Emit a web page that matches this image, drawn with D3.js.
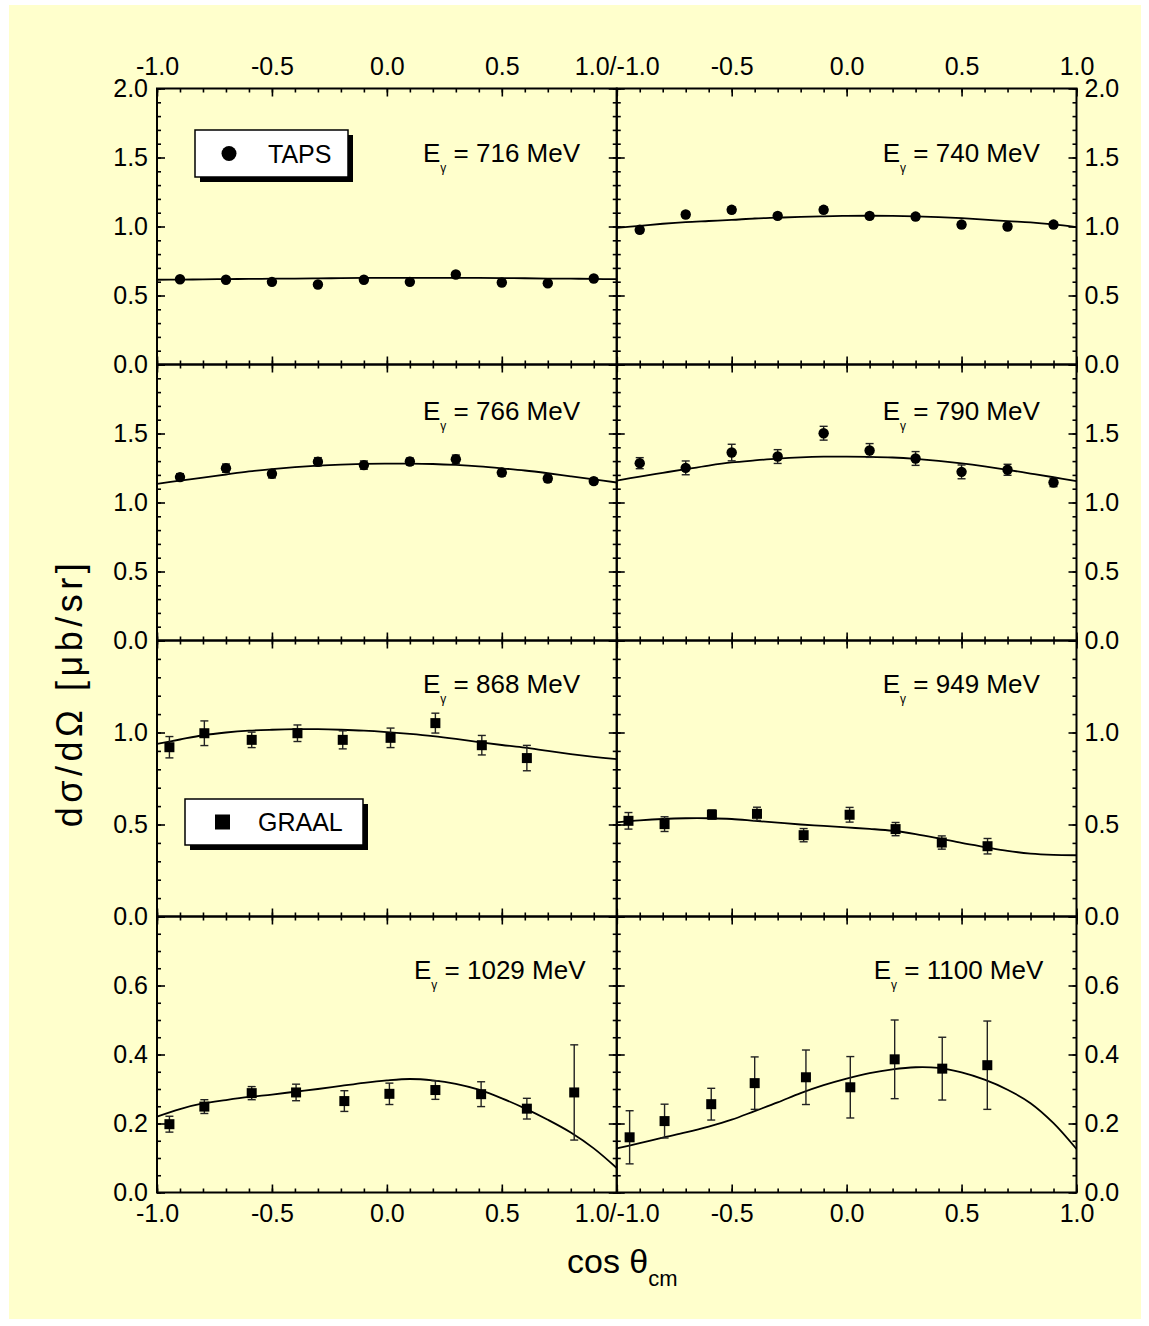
<!DOCTYPE html>
<html>
<head>
<meta charset="utf-8">
<script src="https://cdn.jsdelivr.net/npm/d3@7"></script>
<style>
    body { margin: 0; background: #fff; }
    svg text { font-family: "Liberation Sans", Arial, sans-serif; fill: #000; }
</style>
</head>
<body>
<div id="chart"></div>
<script>
// ---- data ----
const energies = [716, 740, 766, 790, 868, 949, 1029, 1100];

// TAPS angles (same for the four low energies)
const cosTaps = [-0.9, -0.7, -0.5, -0.3, -0.1, 0.1, 0.3, 0.5, 0.7, 0.9];
const taps716 = [0.618, 0.614, 0.599, 0.580, 0.614, 0.599, 0.652, 0.594, 0.589, 0.623];
const taps716Err = [0.015, 0.015, 0.015, 0.015, 0.015, 0.015, 0.015, 0.015, 0.015, 0.015];
const taps740 = [0.976, 1.087, 1.121, 1.077, 1.121, 1.077, 1.072, 1.014, 1.000, 1.014];
const taps740Err = [0.02, 0.02, 0.02, 0.02, 0.02, 0.02, 0.02, 0.02, 0.02, 0.02];
const taps766 = [1.184, 1.249, 1.208, 1.295, 1.271, 1.297, 1.314, 1.217, 1.174, 1.155];
const taps766Err = [0.025, 0.03, 0.03, 0.03, 0.03, 0.025, 0.03, 0.025, 0.025, 0.02];
const taps790 = [1.285, 1.251, 1.362, 1.333, 1.502, 1.377, 1.319, 1.222, 1.237, 1.145];
const taps790Err = [0.04, 0.05, 0.06, 0.05, 0.05, 0.05, 0.05, 0.05, 0.04, 0.03];

// GRAAL
const cos868 = [-0.946, -0.794, -0.588, -0.389, -0.192, 0.016, 0.211, 0.413, 0.609];
const graal868 = [0.920, 0.996, 0.960, 0.996, 0.960, 0.971, 1.051, 0.931, 0.861];
const graal868Err = [0.058, 0.067, 0.042, 0.045, 0.049, 0.053, 0.054, 0.053, 0.069];
const cos949 = [-0.949, -0.792, -0.586, -0.390, -0.187, 0.013, 0.213, 0.414, 0.613];
const graal949 = [0.520, 0.502, 0.554, 0.558, 0.442, 0.553, 0.475, 0.402, 0.382];
const graal949Err = [0.045, 0.04, 0.025, 0.036, 0.036, 0.04, 0.036, 0.036, 0.042];
const cos1029 = [-0.946, -0.794, -0.588, -0.395, -0.185, 0.011, 0.211, 0.410, 0.609, 0.815];
const graal1029 = [0.198, 0.249, 0.288, 0.290, 0.265, 0.286, 0.297, 0.285, 0.243, 0.290];
const graal1029Err = [0.023, 0.02, 0.019, 0.024, 0.03, 0.031, 0.027, 0.036, 0.03, 0.138];
const cos1100 = [-0.944, -0.792, -0.589, -0.400, -0.177, 0.016, 0.209, 0.416, 0.612];
const graal1100 = [0.160, 0.207, 0.256, 0.317, 0.334, 0.305, 0.386, 0.359, 0.369];
const graal1100Err = [0.077, 0.049, 0.046, 0.076, 0.079, 0.089, 0.114, 0.091, 0.128];

// model curves, read at cos = -1.0, -0.9, ..., 1.0
const curveCos = [-1.0, -0.9, -0.8, -0.7, -0.6, -0.5, -0.4, -0.3, -0.2, -0.1, 0.0,
                  0.1, 0.2, 0.3, 0.4, 0.5, 0.6, 0.7, 0.8, 0.9, 1.0];
const curve716 = [0.614, 0.615, 0.617, 0.619, 0.620, 0.622, 0.623, 0.624, 0.626, 0.627, 0.628,
                  0.628, 0.628, 0.628, 0.627, 0.626, 0.625, 0.623, 0.622, 0.620, 0.618];
const curve740 = [0.990, 1.005, 1.020, 1.032, 1.040, 1.048, 1.058, 1.064, 1.070, 1.074, 1.077,
                  1.078, 1.077, 1.073, 1.068, 1.060, 1.050, 1.039, 1.030, 1.015, 0.995];
const curve766 = [1.135, 1.158, 1.180, 1.203, 1.225, 1.242, 1.256, 1.267, 1.275, 1.280, 1.282,
                  1.282, 1.279, 1.272, 1.262, 1.248, 1.232, 1.212, 1.190, 1.168, 1.145];
const curve790 = [1.159, 1.188, 1.215, 1.242, 1.268, 1.290, 1.305, 1.318, 1.327, 1.332, 1.333,
                  1.331, 1.326, 1.316, 1.302, 1.284, 1.262, 1.237, 1.210, 1.183, 1.155];
const curve868 = [0.938, 0.962, 0.985, 1.000, 1.010, 1.015, 1.018, 1.018, 1.015, 1.010, 1.002,
                  0.992, 0.980, 0.965, 0.948, 0.932, 0.918, 0.900, 0.883, 0.868, 0.855];
const curve949 = [0.511, 0.522, 0.530, 0.534, 0.534, 0.530, 0.520, 0.510, 0.500, 0.492, 0.484,
                  0.476, 0.466, 0.448, 0.425, 0.400, 0.378, 0.357, 0.342, 0.335, 0.333];
const curve1029 = [0.220, 0.242, 0.258, 0.268, 0.277, 0.284, 0.292, 0.300, 0.309, 0.318, 0.325,
                   0.329, 0.325, 0.315, 0.298, 0.273, 0.244, 0.211, 0.174, 0.128, 0.071];
const curve1100 = [0.128, 0.143, 0.159, 0.174, 0.191, 0.211, 0.236, 0.261, 0.288, 0.311, 0.330,
                   0.346, 0.357, 0.363, 0.361, 0.348, 0.327, 0.298, 0.259, 0.201, 0.126];

// axis ticks
const xTickLabels = [-1.0, -0.5, 0.0, 0.5, 1.0];
const rowMax = [2.0, 2.0, 1.5, 0.8];
const rowMajor = [0.5, 0.5, 0.5, 0.2];
const rowMinor = [0.1, 0.1, 0.1, 0.05];
const rowTickLabels = [
    [0.0, 0.5, 1.0, 1.5, 2.0],
    [0.0, 0.5, 1.0, 1.5],
    [0.0, 0.5, 1.0],
    [0.0, 0.2, 0.4, 0.6]
];

// panels: row, column, data
const panels = [
    { r: 0, c: 0, e: energies[0], cos: cosTaps, v: taps716, err: taps716Err, curve: curve716, mark: "circle" },
    { r: 0, c: 1, e: energies[1], cos: cosTaps, v: taps740, err: taps740Err, curve: curve740, mark: "circle" },
    { r: 1, c: 0, e: energies[2], cos: cosTaps, v: taps766, err: taps766Err, curve: curve766, mark: "circle" },
    { r: 1, c: 1, e: energies[3], cos: cosTaps, v: taps790, err: taps790Err, curve: curve790, mark: "circle" },
    { r: 2, c: 0, e: energies[4], cos: cos868, v: graal868, err: graal868Err, curve: curve868, mark: "square" },
    { r: 2, c: 1, e: energies[5], cos: cos949, v: graal949, err: graal949Err, curve: curve949, mark: "square" },
    { r: 3, c: 0, e: energies[6], cos: cos1029, v: graal1029, err: graal1029Err, curve: curve1029, mark: "square" },
    { r: 3, c: 1, e: energies[7], cos: cos1100, v: graal1100, err: graal1100Err, curve: curve1100, mark: "square" }
];

// ---- layout ----
const W = 1149, H = 1326;
const plotLeft = 157, plotTop = 88.5;
const colW = 459.75, rowH = 276;
// energy label offsets inside each row (dx from panel left, baseline from row top)
const labelDx = [266, 266, 266, 257];
const labelDy = [73, 55.5, 52.5, 62];

const svg = d3.select("#chart")
    .append("svg")
    .attr("width", W)
    .attr("height", H);

svg.append("rect")
    .attr("x", 9).attr("y", 5)
    .attr("width", 1132).attr("height", 1314)
    .attr("fill", "#ffffcc");

const x = [0, 1].map(c => d3.scaleLinear().domain([-1, 1]).range([plotLeft + c * colW, plotLeft + (c + 1) * colW]));
const y = rowMax.map((m, r) => d3.scaleLinear().domain([0, m]).range([plotTop + (r + 1) * rowH, plotTop + r * rowH]));

// plain hyphen minus, like the original
const fmt = d => d.toFixed(1);
const xMinor = d3.range(-10, 11).map(i => i / 10);
const xMajor = xTickLabels;

function tickAxis(g, axis) {
    g.call(axis);
    g.select(".domain").remove();
    g.selectAll(".tick line").attr("stroke", "#000").attr("stroke-width", 1.6);
}

function styleLabels(sel) {
    sel.style("font-size", "25px")
        .style("font-family", "'Liberation Sans', Arial, sans-serif")
        .attr("fill", "#000");
}

const line = d3.line().curve(d3.curveCatmullRom.alpha(0.5));

panels.forEach(p => {
    const xs = x[p.c], ys = y[p.r];
    const [x0, x1] = xs.range();
    const [y1, y0] = ys.range();
    const g = svg.append("g");

    const n = Math.round(rowMax[p.r] / rowMinor[p.r]);
    const yMinor = d3.range(0, n + 1).map(i => +(i * rowMinor[p.r]).toFixed(3));
    const yMajor = yMinor.filter(v => Math.abs(v / rowMajor[p.r] - Math.round(v / rowMajor[p.r])) < 1e-6);

    // inward ticks on all four sides
    [[yMinor, 4], [yMajor, 8]].forEach(([vals, len]) => {
        g.append("g").attr("transform", `translate(${x0},0)`)
            .call(gg => tickAxis(gg, d3.axisRight(ys).tickValues(vals).tickSize(len).tickFormat("")));
        g.append("g").attr("transform", `translate(${x1},0)`)
            .call(gg => tickAxis(gg, d3.axisLeft(ys).tickValues(vals).tickSize(len).tickFormat("")));
    });
    [[xMinor, 4], [xMajor, 8]].forEach(([vals, len]) => {
        g.append("g").attr("transform", `translate(0,${y0})`)
            .call(gg => tickAxis(gg, d3.axisBottom(xs).tickValues(vals).tickSize(len).tickFormat("")));
        g.append("g").attr("transform", `translate(0,${y1})`)
            .call(gg => tickAxis(gg, d3.axisTop(xs).tickValues(vals).tickSize(len).tickFormat("")));
    });

    // frame
    g.append("rect")
        .attr("x", x0).attr("y", y0)
        .attr("width", x1 - x0).attr("height", y1 - y0)
        .attr("fill", "none").attr("stroke", "#000").attr("stroke-width", 2);

    // y labels
    const yLab = p.c === 0
        ? d3.axisLeft(ys).tickPadding(9)
        : d3.axisRight(ys).tickPadding(8);
    g.append("g")
        .attr("transform", `translate(${p.c === 0 ? x0 : x1},0)`)
        .call(yLab.tickValues(rowTickLabels[p.r]).tickSize(0).tickFormat(fmt))
        .call(gg => gg.select(".domain").remove())
        .selectAll("text")
        .call(styleLabels);

    // x labels on top row and bottom row
    const xVals = p.c === 0 ? xTickLabels : xTickLabels.filter(v => v > -1);
    const xFmt = d => (p.c === 0 && d === 1) ? "1.0/-1.0" : fmt(d);
    if (p.r === 0) {
        g.append("g").attr("transform", `translate(0,${y0})`)
            .call(d3.axisTop(xs).tickValues(xVals).tickSize(0).tickPadding(14).tickFormat(xFmt))
            .call(gg => gg.select(".domain").remove())
            .selectAll("text")
            .call(styleLabels);
    }
    if (p.r === 3) {
        g.append("g").attr("transform", `translate(0,${y1})`)
            .call(d3.axisBottom(xs).tickValues(xVals).tickSize(0).tickPadding(12).tickFormat(xFmt))
            .call(gg => gg.select(".domain").remove())
            .selectAll("text")
            .call(styleLabels);
    }

    // model curve
    g.append("path")
        .datum(curveCos.map((c, i) => [xs(c), ys(p.curve[i])]))
        .attr("d", line)
        .attr("fill", "none")
        .attr("stroke", "#000")
        .attr("stroke-width", 1.8);

    // data
    const pts = p.cos.map((c, i) => ({ c: c, v: p.v[i], e: p.err[i] }));
    const eb = g.append("g").attr("stroke", "#222").attr("stroke-width", 1.4);
    pts.forEach(d => {
        const cx = xs(d.c);
        eb.append("line").attr("x1", cx).attr("x2", cx).attr("y1", ys(d.v - d.e)).attr("y2", ys(d.v + d.e));
        eb.append("line").attr("x1", cx - 4).attr("x2", cx + 4).attr("y1", ys(d.v - d.e)).attr("y2", ys(d.v - d.e));
        eb.append("line").attr("x1", cx - 4).attr("x2", cx + 4).attr("y1", ys(d.v + d.e)).attr("y2", ys(d.v + d.e));
    });
    if (p.mark === "circle") {
        g.selectAll(".pt").data(pts).enter().append("circle")
            .attr("cx", d => xs(d.c)).attr("cy", d => ys(d.v))
            .attr("r", 5.2).attr("fill", "#000");
    } else {
        g.selectAll(".pt").data(pts).enter().append("rect")
            .attr("x", d => xs(d.c) - 5).attr("y", d => ys(d.v) - 5)
            .attr("width", 10).attr("height", 10).attr("fill", "#000");
    }

    // energy label
    const t = g.append("text")
        .attr("x", x0 + labelDx[p.r])
        .attr("y", y0 + labelDy[p.r])
        .style("font-size", "26px");
    t.append("tspan").text("E");
    t.append("tspan").attr("dy", 10).style("font-size", "12px").text("γ");
    t.append("tspan").attr("dy", -10).text(` = ${p.e} MeV`);
});

// legends
function legend(lx, ly, w, h, label, mark) {
    const g = svg.append("g");
    g.append("rect").attr("x", lx + 5).attr("y", ly + 5).attr("width", w).attr("height", h).attr("fill", "#000");
    g.append("rect").attr("x", lx).attr("y", ly).attr("width", w).attr("height", h)
        .attr("fill", "#fff").attr("stroke", "#000").attr("stroke-width", 1.5);
    if (mark === "circle") {
        g.append("circle").attr("cx", lx + 34).attr("cy", ly + h / 2).attr("r", 7.5).attr("fill", "#000");
    } else {
        g.append("rect").attr("x", lx + 30).attr("y", ly + h / 2 - 7.5).attr("width", 15).attr("height", 15).attr("fill", "#000");
    }
    g.append("text").attr("x", lx + 73).attr("y", ly + h / 2 + 9).style("font-size", "25px").text(label);
}
legend(195, 130, 153, 47, "TAPS", "circle");
legend(185, 799, 178, 46, "GRAAL", "square");

// axis titles
svg.append("text")
    .attr("transform", "translate(82,693) rotate(-90)")
    .attr("text-anchor", "middle")
    .style("font-size", "36px")
    .style("letter-spacing", "4.5px")
    .text("dσ/dΩ [μb/sr]");

const xt = svg.append("text")
    .attr("x", 567).attr("y", 1273)
    .style("font-size", "34px");
xt.append("tspan").text("cos θ");
xt.append("tspan").attr("dy", 13).style("font-size", "22px").text("cm");
</script>
</body>
</html>
